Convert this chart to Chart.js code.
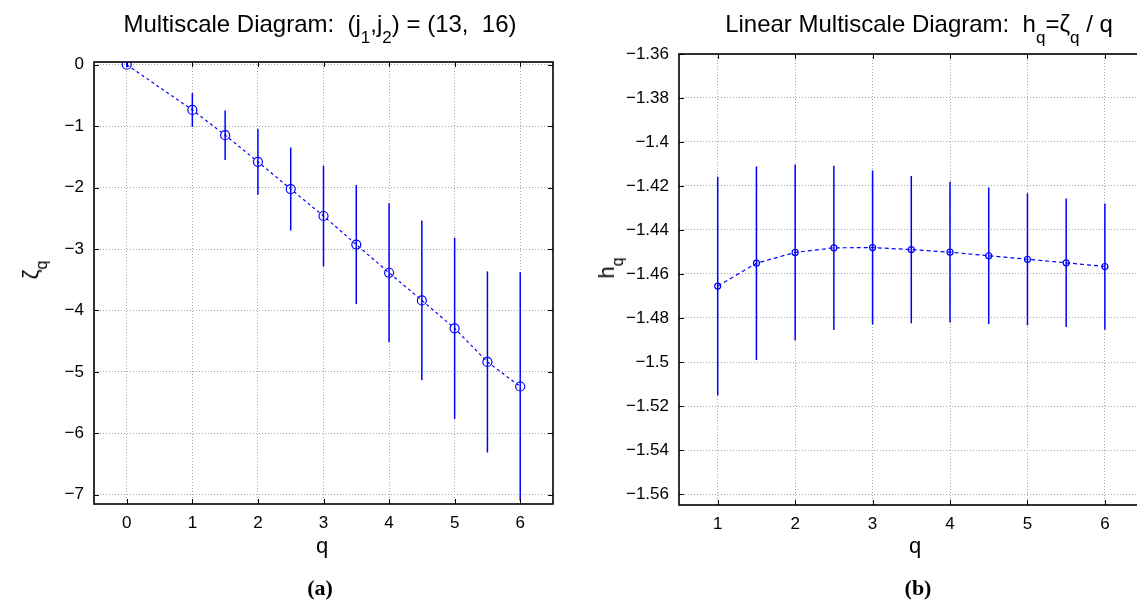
<!DOCTYPE html>
<html>
<head>
<meta charset="utf-8">
<script src="https://cdn.jsdelivr.net/npm/chart.js@4.4.1/dist/chart.umd.min.js"></script>
<style>
  html, body { margin: 0; padding: 0; background: #fff; overflow: hidden; }
  body { width: 1137px; height: 605px; position: relative; font-family: "Liberation Sans", Arial, sans-serif; color: #000; }
  canvas { position: absolute; top: 0; }
  .txt { position: absolute; white-space: nowrap; font-size: 22px; line-height: 22px; }
  .sub { font-size: 16px; position: relative; top: 9px; }
  .title { font-size: 24px; line-height: 24px; }
  .title .sub { font-size: 17px; top: 11px; }
  .center { transform: translateX(-50%); }
  .ylab { transform: translate(-50%, -50%) rotate(-90deg); }
  .cap { font-family: "Liberation Serif", "Times New Roman", serif; font-weight: bold; font-size: 22px; }
</style>
</head>
<body>
<canvas id="chartA" width="570" height="565" style="left:0"></canvas>
<canvas id="chartB" width="570" height="565" style="left:580px"></canvas>

<div class="txt title center" style="left:320px; top:12px">Multiscale Diagram:&nbsp; (j<span class="sub">1</span>,j<span class="sub">2</span>) = (13,&nbsp; 16)</div>
<div class="txt title center" style="left:919px; top:12px">Linear Multiscale Diagram:&nbsp; h<span class="sub">q</span>=ζ<span class="sub">q</span> / q</div>
<div class="txt ylab" style="left:32px; top:270px">ζ<span class="sub">q</span></div>
<div class="txt ylab" style="left:608px; top:268px">h<span class="sub">q</span></div>
<div class="txt center" style="left:322px; top:535px">q</div>
<div class="txt center" style="left:915px; top:535px">q</div>
<div class="txt center cap" style="left:320px; top:577px">(a)</div>
<div class="txt center cap" style="left:918px; top:577px">(b)</div>

<script>
// (a) multiscale diagram: zeta_q with error bars
const qA = [0, 1, 1.5, 2, 2.5, 3, 3.5, 4, 4.5, 5, 5.5, 6];
const zetaA = [0, -0.735, -1.146, -1.58, -2.023, -2.462, -2.927, -3.386, -3.836, -4.29, -4.838, -5.237];
const zetaErr = [0.04, 0.276, 0.403, 0.535, 0.676, 0.82, 0.969, 1.132, 1.299, 1.474, 1.474, 1.86];
const xTicksA = [0, 1, 2, 3, 4, 5, 6];
const yTicksA = [0, -1, -2, -3, -4, -5, -6, -7];
const yLabelsA = ['0', '\u22121', '\u22122', '\u22123', '\u22124', '\u22125', '\u22126', '\u22127'];

// (b) linear multiscale diagram: h_q = zeta_q / q
const qB = [1, 1.5, 2, 2.5, 3, 3.5, 4, 4.5, 5, 5.5, 6];
const hB = [-1.4655, -1.4551, -1.4502, -1.4481, -1.448, -1.4489, -1.4501, -1.4517, -1.4533, -1.4549, -1.4566];
const hErr = [0.0497, 0.044, 0.040, 0.0373, 0.035, 0.0335, 0.032, 0.031, 0.030, 0.0292, 0.0287];
const xTicksB = [1, 2, 3, 4, 5, 6];
const yTicksB = [-1.36, -1.38, -1.4, -1.42, -1.44, -1.46, -1.48, -1.5, -1.52, -1.54, -1.56];
const yLabelsB = ['\u22121.36', '\u22121.38', '\u22121.4', '\u22121.42', '\u22121.44', '\u22121.46', '\u22121.48', '\u22121.5', '\u22121.52', '\u22121.54', '\u22121.56'];

const BLUE = '#0000ff';

// vertical error bars, drawn under the markers
const errorBars = {
  id: 'errorBars',
  beforeDatasetsDraw(chart) {
    const { ctx, chartArea: a, scales: { x, y } } = chart;
    const ds = chart.data.datasets[0];
    ctx.save();
    ctx.beginPath();
    ctx.rect(a.left, a.top, a.width, a.height);
    ctx.clip();
    ctx.strokeStyle = BLUE;
    ctx.lineWidth = 1.5;
    ds.data.forEach((p, i) => {
      const px = x.getPixelForValue(p.x);
      ctx.beginPath();
      ctx.moveTo(px, y.getPixelForValue(p.y + ds.errors[i]));
      ctx.lineTo(px, y.getPixelForValue(p.y - ds.errors[i]));
      ctx.stroke();
    });
    ctx.restore();
  }
};

// matlab style box with inward ticks on all sides
const boxTicks = {
  id: 'boxTicks',
  afterDraw(chart) {
    const { ctx, chartArea: a, scales: { x, y } } = chart;
    ctx.save();
    ctx.strokeStyle = '#000';
    ctx.lineWidth = 1;
    ctx.beginPath();
    x.ticks.forEach(t => {
      const px = Math.round(x.getPixelForValue(t.value)) + 0.5;
      ctx.moveTo(px, a.bottom); ctx.lineTo(px, a.bottom - 5);
      ctx.moveTo(px, a.top); ctx.lineTo(px, a.top + 5);
    });
    y.ticks.forEach(t => {
      const py = Math.round(y.getPixelForValue(t.value)) + 0.5;
      ctx.moveTo(a.left, py); ctx.lineTo(a.left + 5, py);
      ctx.moveTo(a.right, py); ctx.lineTo(a.right - 5, py);
    });
    ctx.stroke();
    ctx.lineWidth = 1.6;
    ctx.strokeRect(a.left, a.top, a.width, a.height);
    ctx.restore();
  }
};

function makeChart(id, q, vals, errs, opt) {
  const tickFont = { family: '"Liberation Sans", Arial, sans-serif', size: 17 };
  const grid = { color: '#a6a6a6', lineWidth: 1, drawTicks: false };
  const border = { display: false, dash: [1, 2] };
  return new Chart(document.getElementById(id), {
    type: 'line',
    data: {
      datasets: [{
        data: q.map((v, i) => ({ x: v, y: vals[i] })),
        errors: errs,
        borderColor: BLUE,
        borderWidth: 1.2,
        borderDash: opt.dash,
        pointStyle: 'circle',
        pointRadius: opt.r,
        pointBorderColor: BLUE,
        pointBorderWidth: 1.2,
        pointBackgroundColor: 'rgba(0,0,0,0)',
        fill: false,
        tension: 0
      }]
    },
    options: {
      responsive: false,
      animation: false,
      events: [],
      layout: { padding: { top: opt.top, right: opt.right, left: 0, bottom: 0 } },
      plugins: { legend: { display: false }, tooltip: { enabled: false } },
      scales: {
        x: {
          type: 'linear', min: opt.xMin, max: opt.xMax,
          grid, border,
          afterBuildTicks: s => { s.ticks = opt.xTicks.map(v => ({ value: v })); },
          afterFit: s => { s.height = opt.xh; },
          ticks: { font: tickFont, color: '#000', padding: 9, maxRotation: 0, callback: v => String(v) }
        },
        y: {
          type: 'linear', min: opt.yMin, max: opt.yMax,
          grid, border,
          afterBuildTicks: s => { s.ticks = opt.yTicks.map(v => ({ value: v })); },
          afterFit: s => { s.width = opt.yw; },
          ticks: { font: tickFont, color: '#000', padding: 10, callback: (v, i) => opt.yLabels[i] }
        }
      }
    },
    plugins: [errorBars, boxTicks]
  });
}

makeChart('chartA', qA, zetaA, zetaErr, {
  dash: [3, 3], r: 4.5, top: 62, right: 17, yw: 94, xh: 61,
  xMin: -0.5, xMax: 6.5, yMin: -7.15, yMax: 0.045,
  xTicks: xTicksA, yTicks: yTicksA, yLabels: yLabelsA
});

makeChart('chartB', qB, hB, hErr, {
  dash: [4, 3], r: 3, top: 54, right: 6.4, yw: 99, xh: 60,
  xMin: 0.5, xMax: 6.5, yMin: -1.565, yMax: -1.36,
  xTicks: xTicksB, yTicks: yTicksB, yLabels: yLabelsB
});
</script>
</body>
</html>
